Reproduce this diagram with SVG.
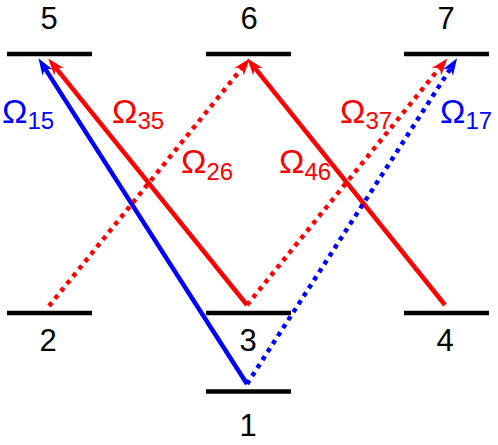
<svg xmlns="http://www.w3.org/2000/svg" width="498" height="445" viewBox="0 0 498 445">
<style>
.lvl{stroke:#000;stroke-width:4.5;fill:none}
.num{font-family:"Liberation Sans",Arial,sans-serif;font-size:31px;fill:#000;text-anchor:middle}
.om{font-family:"Liberation Sans",Arial,sans-serif;font-size:34px}
.sub{font-size:24px}
.r{fill:#FF0000}
.b{fill:#0000FF}
.ln{fill:none;stroke-width:4.5}
.dot{stroke-dasharray:4.5 5;stroke-width:4.5}
</style>
<defs>
<marker id="ar" markerUnits="userSpaceOnUse" viewBox="0 -8 18 16" refX="5" refY="0" markerWidth="18" markerHeight="16" orient="auto">
<path d="M17,0 L0,-6 L5,0 L0,6 Z" fill="#FF0000"/>
</marker>
<marker id="ab" markerUnits="userSpaceOnUse" viewBox="0 -8 18 16" refX="5" refY="0" markerWidth="18" markerHeight="16" orient="auto">
<path d="M17,0 L0,-6 L5,0 L0,6 Z" fill="#0000FF"/>
</marker>
</defs>
<rect width="498" height="445" fill="#fff"/>
<g id="level5"><line class="lvl" x1="7" y1="54" x2="92" y2="54"/><text class="num" x="49" y="29">5</text></g>
<g id="level6"><line class="lvl" x1="206" y1="54" x2="291" y2="54"/><text class="num" x="249" y="29">6</text></g>
<g id="level7"><line class="lvl" x1="404" y1="54" x2="489" y2="54"/><text class="num" x="446" y="29">7</text></g>
<g id="level2"><line class="lvl" x1="7" y1="313" x2="92" y2="313"/><text class="num" x="48" y="351">2</text></g>
<g id="level3"><line class="lvl" x1="206" y1="313" x2="291" y2="313"/><text class="num" x="248" y="351">3</text></g>
<g id="level4"><line class="lvl" x1="404" y1="313" x2="489" y2="313"/><text class="num" x="445" y="351">4</text></g>
<g id="level1"><line class="lvl" x1="206" y1="391.5" x2="291" y2="391.5"/><text class="num" x="248" y="436">1</text></g>
<g id="connectors">
<line class="ln" stroke="#0000FF" x1="247" y1="384" x2="44.9" y2="68.4" marker-end="url(#ab)"/>
<line class="ln" stroke="#FF0000" x1="247" y1="305" x2="55.8" y2="67.8" marker-end="url(#ar)"/>
<line class="ln dot" stroke="#FF0000" x1="49" y1="306" x2="242.2" y2="67.8" marker-end="url(#ar)"/>
<line class="ln" stroke="#FF0000" x1="445" y1="305" x2="254.8" y2="67.8" marker-end="url(#ar)"/>
<line class="ln dot" stroke="#FF0000" x1="247" y1="305" x2="439.7" y2="67.8" marker-end="url(#ar)"/>
<line class="ln dot" stroke="#0000FF" x1="247" y1="384" x2="450.6" y2="68.4" marker-end="url(#ab)"/>
</g>
<g id="labels">
<text class="om b" x="2" y="123">Ω<tspan class="sub" dy="6">15</tspan></text>
<text class="om r" x="112" y="123">Ω<tspan class="sub" dy="6">35</tspan></text>
<text class="om r" x="181" y="173">Ω<tspan class="sub" dy="7">26</tspan></text>
<text class="om r" x="279" y="173">Ω<tspan class="sub" dy="7">46</tspan></text>
<text class="om r" x="340" y="123">Ω<tspan class="sub" dy="6">37</tspan></text>
<text class="om b" x="440" y="123">Ω<tspan class="sub" dy="6">17</tspan></text>
</g>
</svg>
